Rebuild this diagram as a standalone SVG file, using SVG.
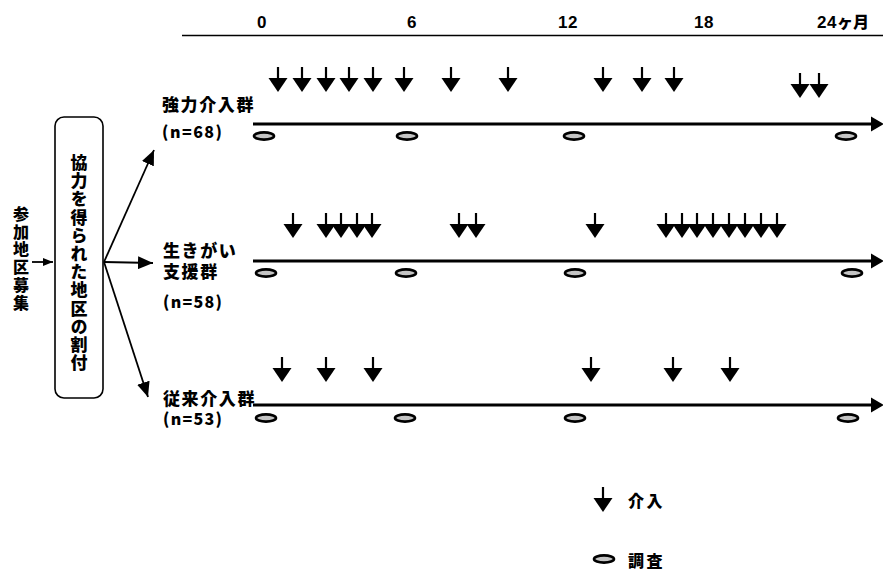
<svg xmlns="http://www.w3.org/2000/svg" xmlns:xlink="http://www.w3.org/1999/xlink" width="883" height="573" viewBox="0 0 883 573">
  <style>
    .jp { font-family: "Noto Sans CJK JP", "Noto Sans", sans-serif; font-weight: 900; fill: #000; }
    .num { font-family: "Liberation Sans", Arial, sans-serif; font-weight: 700; fill: #000; }
    .lbl { font-size: 17px; letter-spacing: 1.6px; }
    .cnt { font-size: 16px; }
    .tick { font-size: 17px; letter-spacing: 0.5px; }
    .line { stroke: #000; stroke-width: 3; fill: none; }
    .thin { stroke: #000; stroke-width: 1.8; fill: none; }
    .survey { fill: #c4c4c4; stroke: #000; stroke-width: 2.6; }
  </style>
  <defs>
    <!-- down arrow marking an intervention; origin at top of shaft -->
    <g id="iv">
      <line x1="0" y1="0" x2="0" y2="12" stroke="#000" stroke-width="2.2"/>
      <polygon points="-9.5,11 9.5,11 0,25" fill="#000"/>
    </g>
    <!-- survey ellipse -->
    <ellipse id="sv" class="survey" cx="0" cy="0" rx="10" ry="3.6"/>
    <marker id="head" viewBox="0 0 15 13" refX="15" refY="6.5" markerWidth="15" markerHeight="13" markerUnits="userSpaceOnUse" orient="auto">
      <polygon points="0,0 15,6.5 0,13" fill="#000"/>
    </marker>
    <marker id="headS" viewBox="0 0 10 8" refX="10" refY="4" markerWidth="10" markerHeight="8" markerUnits="userSpaceOnUse" orient="auto">
      <polygon points="0,0 10,4 0,8" fill="#000"/>
    </marker>
  </defs>

  <!-- month scale -->
  <g id="scale">
    <line x1="182" y1="35.5" x2="883" y2="35.5" stroke="#000" stroke-width="1.6"/>
    <text class="num tick" x="262" y="28" text-anchor="middle">0</text>
    <text class="num tick" x="412" y="28" text-anchor="middle">6</text>
    <text class="num tick" x="568" y="28" text-anchor="middle">12</text>
    <text class="num tick" x="704" y="28" text-anchor="middle">18</text>
    <text x="817" y="28"><tspan class="num tick">24</tspan><tspan class="jp" font-size="16">ヶ月</tspan></text>
  </g>

  <!-- recruitment -->
  <g id="recruit">
    <text class="jp" x="21" y="206" font-size="16" letter-spacing="1.7" writing-mode="vertical-rl">参加地区募集</text>
  </g>

  <!-- allocation box -->
  <g id="allocation">
    <rect x="55" y="117" width="48" height="281" rx="9" ry="9" fill="#fff" stroke="#000" stroke-width="1.6"/>
    <text class="jp" x="79" y="154" font-size="17" letter-spacing="1.2" writing-mode="vertical-rl">協力を得られた地区の割付</text>
  </g>

  <!-- group labels -->
  <g id="group-intensive">
    <text class="jp lbl" x="162" y="111">強力介入群</text>
    <text class="jp cnt" x="162" y="138" textLength="60" lengthAdjust="spacing">(n=68)</text>
  </g>
  <g id="group-ikigai">
    <text class="jp lbl" x="163" y="257">生きがい</text>
    <text class="jp lbl" x="163" y="278">支援群</text>
    <text class="jp cnt" x="163" y="308" textLength="59" lengthAdjust="spacing">(n=58)</text>
  </g>
  <g id="group-usual">
    <text class="jp lbl" x="163" y="405">従来介入群</text>
    <text class="jp cnt" x="163" y="425" textLength="59" lengthAdjust="spacing">(n=53)</text>
  </g>

  <!-- connectors -->
  <g id="connectors">
    <line class="thin" x1="32" y1="262" x2="53" y2="262" marker-end="url(#headS)"/>
    <line class="thin" x1="104" y1="262" x2="154" y2="150" marker-end="url(#head)"/>
    <line class="thin" x1="104" y1="262" x2="153" y2="263" marker-end="url(#head)"/>
    <line class="thin" x1="104" y1="262" x2="148" y2="397" marker-end="url(#head)"/>
  </g>

  <!-- timeline: intensive intervention -->
  <g id="timeline-intensive">
    <line class="line" x1="253" y1="124" x2="874" y2="124"/>
    <polygon points="871,116.5 884,124 871,131.5" fill="#000"/>
    <use xlink:href="#sv" x="264" y="136"/>
    <use xlink:href="#sv" x="407" y="136"/>
    <use xlink:href="#sv" x="574" y="136"/>
    <use xlink:href="#sv" x="846" y="136"/>
    <use xlink:href="#iv" x="278" y="67"/>
    <use xlink:href="#iv" x="302" y="67"/>
    <use xlink:href="#iv" x="326" y="67"/>
    <use xlink:href="#iv" x="349" y="67"/>
    <use xlink:href="#iv" x="373" y="67"/>
    <use xlink:href="#iv" x="404" y="67"/>
    <use xlink:href="#iv" x="451" y="67"/>
    <use xlink:href="#iv" x="508" y="67"/>
    <use xlink:href="#iv" x="603" y="67"/>
    <use xlink:href="#iv" x="642" y="67"/>
    <use xlink:href="#iv" x="674" y="67"/>
    <use xlink:href="#iv" x="800" y="73"/>
    <use xlink:href="#iv" x="819" y="73"/>
  </g>

  <!-- timeline: ikigai support -->
  <g id="timeline-ikigai">
    <line class="line" x1="253" y1="261" x2="874" y2="261"/>
    <polygon points="871,253.5 884,261 871,268.5" fill="#000"/>
    <use xlink:href="#sv" x="266" y="273"/>
    <use xlink:href="#sv" x="406" y="273"/>
    <use xlink:href="#sv" x="575" y="273"/>
    <use xlink:href="#sv" x="852" y="273"/>
    <use xlink:href="#iv" x="293" y="213"/>
    <use xlink:href="#iv" x="326" y="213"/>
    <use xlink:href="#iv" x="341" y="213"/>
    <use xlink:href="#iv" x="357" y="213"/>
    <use xlink:href="#iv" x="372" y="213"/>
    <use xlink:href="#iv" x="459" y="213"/>
    <use xlink:href="#iv" x="476" y="213"/>
    <use xlink:href="#iv" x="595" y="213"/>
    <use xlink:href="#iv" x="666" y="213"/>
    <use xlink:href="#iv" x="682" y="213"/>
    <use xlink:href="#iv" x="697" y="213"/>
    <use xlink:href="#iv" x="713" y="213"/>
    <use xlink:href="#iv" x="729" y="213"/>
    <use xlink:href="#iv" x="745" y="213"/>
    <use xlink:href="#iv" x="761" y="213"/>
    <use xlink:href="#iv" x="777" y="213"/>
  </g>

  <!-- timeline: usual intervention -->
  <g id="timeline-usual">
    <line class="line" x1="253" y1="405" x2="874" y2="405"/>
    <polygon points="871,397.5 884,405 871,412.5" fill="#000"/>
    <use xlink:href="#sv" x="266" y="418"/>
    <use xlink:href="#sv" x="405" y="418"/>
    <use xlink:href="#sv" x="575" y="418"/>
    <use xlink:href="#sv" x="848" y="418"/>
    <use xlink:href="#iv" x="282" y="357"/>
    <use xlink:href="#iv" x="326" y="357"/>
    <use xlink:href="#iv" x="373" y="357"/>
    <use xlink:href="#iv" x="591" y="357"/>
    <use xlink:href="#iv" x="673" y="357"/>
    <use xlink:href="#iv" x="730" y="357"/>
  </g>

  <!-- legend -->
  <g id="legend">
    <use xlink:href="#iv" x="603" y="487"/>
    <text class="jp" x="628" y="507" font-size="16" letter-spacing="2.5">介入</text>
    <use xlink:href="#sv" x="604" y="559"/>
    <text class="jp" x="628" y="567" font-size="16" letter-spacing="2.5">調査</text>
  </g>
</svg>
